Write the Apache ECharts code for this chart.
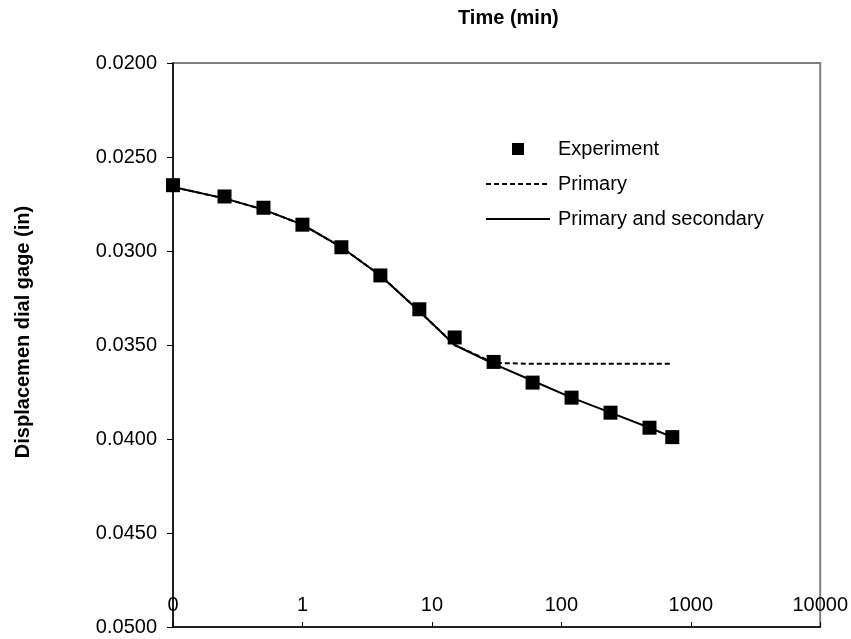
<!DOCTYPE html>
<html>
<head>
<meta charset="utf-8">
<script src="https://cdn.jsdelivr.net/npm/echarts@6/dist/echarts.min.js"></script>
<style>
html,body{margin:0;padding:0;background:#fff;}
#chart{width:851px;height:639px;}
</style>
</head>
<body>
<div id="chart"></div>
<script>
// Time (min), log axis; 0.1 represents the first reading (labelled "0")
const expTime = [0.1, 0.25, 0.5, 1, 2, 4, 8, 15, 30, 60, 120, 240, 480, 720];
const expDisp = [0.0265, 0.0271, 0.0277, 0.0286, 0.0298, 0.0313, 0.0331, 0.0346, 0.0359, 0.0370, 0.0378, 0.0386, 0.0394, 0.0399];

const modelTime = [0.1, 0.25, 0.5, 1, 2, 4, 8, 15, 30, 60, 120, 240, 480, 720];
const primaryDisp = [0.0266, 0.0272, 0.0278, 0.0286, 0.0298, 0.0313, 0.0332, 0.0350, 0.03595, 0.0360, 0.0360, 0.0360, 0.0360, 0.0360];
const primSecDisp = [0.0266, 0.0272, 0.0278, 0.0286, 0.0298, 0.0313, 0.0332, 0.0350, 0.0360, 0.0369, 0.0378, 0.0386, 0.0394, 0.0399];

const xTickLabels = {0.1: '0', 1: '1', 10: '10', 100: '100', 1000: '1000', 10000: '10000'};

const FONT = 'Liberation Sans, Arial, sans-serif';

function pairs(xs, ys) { return xs.map((x, i) => [x, ys[i]]); }

const chart = echarts.init(document.getElementById('chart'), null, {renderer: 'canvas'});
chart.setOption({
  animation: false,
  backgroundColor: '#ffffff',
  title: {
    text: 'Time (min)',
    left: 458, top: 8, padding: 0,
    textStyle: {fontFamily: FONT, fontSize: 20, fontWeight: 'bold', color: '#000'}
  },
  grid: {
    left: 173, right: 28, top: 63, bottom: 12,
    show: true, borderColor: '#808080', borderWidth: 2, backgroundColor: 'transparent'
  },
  legend: {
    orient: 'vertical',
    left: 480, top: 134,
    itemWidth: 64, itemHeight: 12, itemGap: 15,
    textStyle: {fontFamily: FONT, fontSize: 20, color: '#000', padding: [0,0,0,3]},
    data: [
      {name: 'Experiment', icon: 'path://M0,0L10,0L10,10L0,10Z', symbolKeepAspect: true, itemStyle: {opacity: 1}},
      {name: 'Primary', itemStyle: {opacity: 0}, lineStyle: {width: 2, type: [5, 3], color: '#000'}},
      {name: 'Primary and secondary', itemStyle: {opacity: 0}, lineStyle: {width: 2, type: 'solid', color: '#000'}}
    ]
  },
  xAxis: {
    type: 'log', logBase: 10, min: 0.1, max: 10000,
    position: 'bottom',
    axisLine: {show: true, onZero: false, lineStyle: {color: '#000', width: 1.5}},
    axisTick: {show: true, inside: true, length: 5, lineStyle: {color: '#000'}},
    axisLabel: {
      inside: true, margin: 12, showMinLabel: true, showMaxLabel: true,
      fontFamily: FONT, fontSize: 20, color: '#000',
      formatter: v => { const k = Object.keys(xTickLabels).find(t => Math.abs(Math.log10(+t) - Math.log10(v)) < 1e-6); return k !== undefined ? xTickLabels[k] : ''; }
    },
    splitLine: {show: false},
    minorTick: {show: false}
  },
  yAxis: {
    type: 'value', inverse: true, min: 0.02, max: 0.05, interval: 0.005,
    name: 'Displacemen dial gage (in)',
    nameLocation: 'middle', nameRotate: 90, nameGap: 140,
    nameTextStyle: {fontFamily: FONT, fontSize: 20, fontWeight: 'bold', color: '#000', padding: [0, 0, 0, 26]},
    axisLine: {show: true, onZero: false, lineStyle: {color: '#000', width: 1.5}},
    axisTick: {show: true, inside: false, length: 6, lineStyle: {color: '#000'}},
    axisLabel: {
      margin: 16, fontFamily: FONT, fontSize: 20, color: '#000',
      formatter: v => v.toFixed(4)
    },
    splitLine: {show: false}
  },
  series: [
    {
      name: 'Primary', type: 'line', symbol: 'none', z: 2,
      lineStyle: {color: '#000', width: 2, type: [5, 3]},
      itemStyle: {color: '#000'},
      data: pairs(modelTime, primaryDisp)
    },
    {
      name: 'Primary and secondary', type: 'line', symbol: 'none', z: 3,
      lineStyle: {color: '#000', width: 2, type: 'solid'},
      itemStyle: {color: '#000'},
      data: pairs(modelTime, primSecDisp)
    },
    {
      name: 'Experiment', type: 'scatter', symbol: 'rect', symbolSize: 14, z: 4,
      itemStyle: {color: '#000', opacity: 1},
      data: pairs(expTime, expDisp)
    }
  ]
});
</script>
</body>
</html>
